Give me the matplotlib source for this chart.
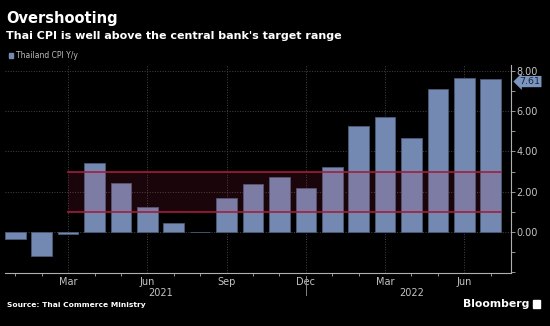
import numpy as np
import matplotlib.pyplot as plt
from matplotlib.ticker import FixedLocator
import matplotlib.transforms as mtransforms

# Thailand CPI Y/y, Jan 2021 - Jul 2022
meses = ['Jan', 'Feb', 'Mar', 'Apr', 'May', 'Jun', 'Jul', 'Aug', 'Sep', 'Oct', 'Nov', 'Dec',
         'Jan', 'Feb', 'Mar', 'Apr', 'May', 'Jun', 'Jul']
cpi = np.array([-0.34, -1.17, -0.08, 3.41, 2.44, 1.25, 0.45, -0.02, 1.68, 2.38, 2.71, 2.17,
                3.23, 5.28, 5.73, 4.65, 7.10, 7.66, 7.61])
anios = ['2021', '2022']
banda = (1.0, 3.0)  # rango objetivo del banco central
inicio_banda = 2    # Mar 2021

fondo = 'black'
color_barra = '#7389b1'
gris = '#c4c4c4'

fig = plt.figure(figsize=(5.5, 3.26), dpi=100, facecolor=fondo)
ax = fig.add_axes([5/550, 52.7/326, 506/550, 208.4/326], facecolor=fondo)

x = np.arange(len(cpi))
ancho = 0.78
ax.bar(x, cpi, width=ancho, color=color_barra, edgecolor='#4a5a78', linewidth=0.6, zorder=2)

# banda objetivo
x_banda = [inicio_banda, x[-1] + ancho / 2]
ax.fill_between(x_banda, banda[0], banda[1], color='#c8284e', alpha=0.13, lw=0, zorder=3)
for nivel in banda:
    ax.plot(x_banda, [nivel, nivel], color='#a41d3d', lw=1.2, zorder=4)

ax.set_xlim(-0.39, x[-1] + 0.77)
ax.set_ylim(-2.05, 8.3)

# ejes
for lado in ['top', 'left']:
    ax.spines[lado].set_visible(False)
for lado in ['right', 'bottom']:
    ax.spines[lado].set_color('#b0b0b0')
    ax.spines[lado].set_linewidth(0.8)

ax.yaxis.tick_right()
ax.set_yticks([0, 2, 4, 6, 8])
ax.set_yticklabels([f'{v:.2f}' for v in [0, 2, 4, 6, 8]])
ax.yaxis.set_minor_locator(FixedLocator([-2, -1, 1, 3, 5, 7]))

mayores = [i for i, m in enumerate(meses) if m in ('Mar', 'Jun', 'Sep', 'Dec')]
ax.set_xticks(mayores)
ax.set_xticklabels([meses[i] for i in mayores])
ax.xaxis.set_minor_locator(FixedLocator(x))

ax.tick_params(axis='both', which='both', colors='#b0b0b0', labelcolor=gris, labelsize=7,
               direction='out', width=0.6)
ax.tick_params(axis='y', which='major', length=3, pad=1)
ax.tick_params(axis='y', which='minor', length=3)
ax.tick_params(axis='x', which='major', length=0, pad=3)
ax.tick_params(axis='x', which='minor', length=2)

ax.grid(True, which='major', color='#444444', linestyle=':', linewidth=0.7, zorder=0)
ax.set_axisbelow(True)

# años debajo del eje
trans = mtransforms.blended_transform_factory(ax.transData, ax.transAxes)
ax.text(5.5, -0.072, anios[0], transform=trans, ha='center', va='top', color=gris, fontsize=7)
ax.text(15, -0.072, anios[1], transform=trans, ha='center', va='top', color=gris, fontsize=7)
ax.plot([11, 11], [-0.015, -0.105], transform=trans, color='#9a9a9a', lw=0.6, clip_on=False)

# etiqueta del último valor
ax.annotate(f'{cpi[-1]:.2f}', xy=(1.0, cpi[-1]), xycoords=('axes fraction', 'data'),
            xytext=(6, -2), textcoords='offset points', ha='left', va='center',
            fontsize=6.8, color='#17263d',
            bbox=dict(boxstyle='larrow,pad=0.12', fc='#7b95bf', ec='none'))

# títulos y textos
fig.text(6/550, 1 - 19/326, 'Overshooting', color='white', fontsize=10.5, fontweight='bold',
         va='center', ha='left')
fig.text(6/550, 1 - 36/326, "Thai CPI is well above the central bank's target range",
         color='white', fontsize=8, fontweight='bold', va='center', ha='left')
fig.patches.append(plt.Rectangle((9/550, 1 - 57.5/326), 4/550, 4.5/326, color=color_barra,
                                 transform=fig.transFigure, figure=fig))
fig.text(16/550, 1 - 55/326, 'Thailand CPI Y/y', color='#bdbdbd', fontsize=5.5,
         va='center', ha='left')
fig.text(7/550, 1 - 305.5/326, 'Source: Thai Commerce Ministry', color='white', fontsize=5.4,
         fontweight='bold', va='center', ha='left')
fig.text(529/550, 1 - 304/326, 'Bloomberg', color='white', fontsize=7.8, fontweight='bold',
         va='center', ha='right')
fig.patches.append(plt.Rectangle((533/550, 1 - 308/326), 7/550, 8/326, color='white',
                                 transform=fig.transFigure, figure=fig))

plt.savefig('out.png', dpi=100, facecolor=fondo)
